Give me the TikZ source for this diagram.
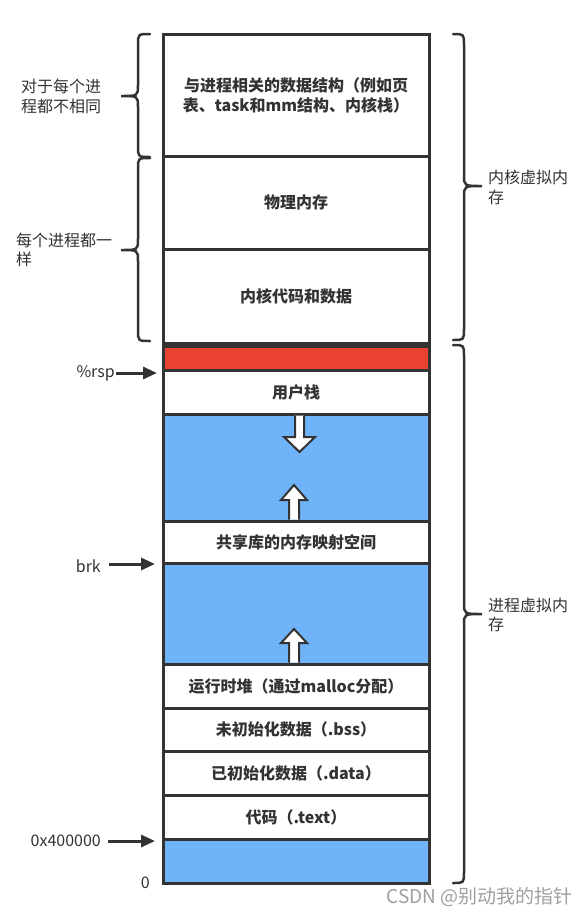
\documentclass[tikz,border=0pt]{standalone}
\usepackage{fontspec}
\setmainfont{Noto Sans CJK SC}
\usetikzlibrary{arrows.meta}
\definecolor{ink}{HTML}{333333}
\definecolor{memblue}{HTML}{6FB4F8}
\definecolor{memred}{HTML}{E94132}
\definecolor{wmgray}{HTML}{A0A0A0}
\tikzset{
  seg/.style={draw=ink, line width=3pt, fill=white, minimum width=266pt, inner sep=0pt,
    font=\bfseries\fontsize{16}{20}\selectfont, text=ink, align=center},
  bluefill/.style={seg, fill=memblue},
  redfill/.style={seg, fill=memred},
  lbl/.style={font=\fontsize{16}{19.5}\selectfont, text=ink, align=left, inner sep=0pt},
  ptr/.style={draw=ink, line width=3pt, -{Triangle[length=14pt,width=12pt]}},
  bracket/.style={draw=ink, line width=2.5pt, line cap=round},
  hollow/.style={draw=ink, fill=white, line width=2pt, line join=miter}
}
\begin{document}
\begin{tikzpicture}[x=1pt,y=-1pt]
\useasboundingbox[fill=white] (0,0) rectangle (584,916);

% kernel part
\node[seg, minimum height=122pt] (k1) at (296,95) {与进程相关的数据结构（例如页\\表、task和mm结构、内核栈）};
\node[seg, minimum height=93pt] (k2) at (296,202.5) {物理内存};
\node[seg, minimum height=94pt] (k3) at (296,296) {内核代码和数据};

% process part
\node[redfill, minimum height=24pt] (red) at (296,358) {};
\node[seg, minimum height=44pt] (stack) at (296,392) {用户栈};
\node[bluefill, minimum height=107pt] (gap1) at (296,467.5) {};
\node[seg, minimum height=42pt] (shlib) at (296,542) {共享库的内存映射空间};
\node[bluefill, minimum height=101pt] (gap2) at (296,613.5) {};
\node[seg, minimum height=44pt] (heap) at (296,686) {运行时堆（通过malloc分配）};
\node[seg, minimum height=43pt] (bss) at (296,729.5) {未初始化数据（.bss）};
\node[seg, minimum height=44pt] (data) at (296,773) {已初始化数据（.data）};
\node[seg, minimum height=44pt] (text) at (296,817) {代码（.text）};
\node[bluefill, minimum height=44pt] (low) at (296,861) {};

% growth arrows
\path[hollow] (295,415.5) -- (295,437) -- (284,437) -- (299.5,452) -- (315,437) -- (304,437) -- (304,415.5);
\path[hollow] (289,519.5) -- (289,500) -- (281,500) -- (294,485) -- (307,500) -- (299,500) -- (299,519.5);
\path[hollow] (289,662.5) -- (289,643) -- (281,643) -- (294,629) -- (307,643) -- (299,643) -- (299,662.5);

% left braces
\path[bracket] (150,34) .. controls (138,34) .. (138,45) -- (138,85)
  .. controls (138,96) .. (121,96) .. controls (138,96) .. (138,107)
  -- (138,146) .. controls (138,157) .. (150,157);
\path[bracket] (150,158) .. controls (138,158) .. (138,169) -- (138,239)
  .. controls (138,250) .. (121,250) .. controls (138,250) .. (138,261)
  -- (138,330) .. controls (138,341) .. (150,341);

% right braces
\path[bracket] (453,34) .. controls (464,34) .. (464,45) -- (464,175)
  .. controls (464,186) .. (482,186) .. controls (464,186) .. (464,197)
  -- (464,329) .. controls (464,340) .. (453,340);
\path[bracket] (453,345) .. controls (464,345) .. (464,356) -- (464,603)
  .. controls (464,614) .. (482,614) .. controls (464,614) .. (464,625)
  -- (464,872) .. controls (464,883) .. (453,883);

% brace labels
\node[lbl, anchor=west] (diff) at (21,96.5) {对于每个进\\程都不相同};
\node[lbl, anchor=west] (same) at (16,250) {每个进程都一\\样};
\node[lbl, anchor=west] (kvm) at (488,187.5) {内核虚拟内\\存};
\node[lbl, anchor=west] (pvm) at (488,615) {进程虚拟内\\存};

% pointers
\node[lbl, anchor=east] (rsp) at (115,373) {\%rsp};
\node[lbl, anchor=east] (brk) at (101,566) {brk};
\node[lbl, anchor=east] (addr) at (101,841) {0x400000};
\node[lbl, anchor=east] (zero) at (150,883) {0};
\coordinate (rspT) at (157,373);
\coordinate (brkT) at (155,564);
\coordinate (addrT) at (155,841);
\draw[ptr, shorten <=1pt] (rsp.east) -- (rspT);
\draw[ptr, shorten <=8pt] (brk.east |- brkT) -- (brkT);
\draw[ptr, shorten <=7pt] (addr.east) -- (addrT);

% watermark
\node[font=\fontsize{19}{22}\selectfont, text=wmgray, anchor=east, inner sep=0pt] (wm) at (573,897) {CSDN @别动我的指针};
\end{tikzpicture}
\end{document}
